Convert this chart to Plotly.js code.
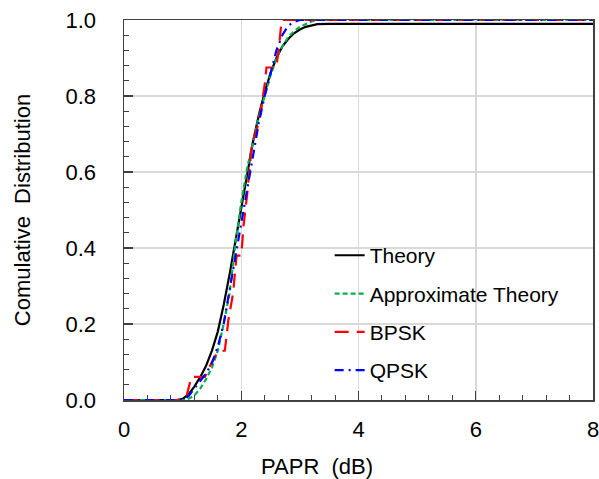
<!DOCTYPE html>
<html>
<head>
<meta charset="utf-8">
<script src="https://cdn.plot.ly/plotly-3.0.1.min.js"></script>
<style>html,body{margin:0;padding:0;background:#fff;}#chart{width:599px;height:479px;}</style>
</head>
<body>
<div id="chart"></div>
<script>
// Theory
var theoryX = [0, 0.9, 1.0, 1.1, 1.2, 1.3, 1.4, 1.5, 1.6, 1.7, 1.8, 1.9, 2.0, 2.1, 2.2, 2.3, 2.4, 2.5, 2.6, 2.7, 2.8, 2.9, 3.0, 3.1, 3.2, 3.3, 3.5, 8];
var theoryY = [0, 0, 0.003, 0.015, 0.035, 0.06, 0.09, 0.13, 0.18, 0.25, 0.33, 0.42, 0.51, 0.6, 0.68, 0.75, 0.81, 0.86, 0.9, 0.93, 0.95, 0.965, 0.975, 0.982, 0.986, 0.989, 0.99, 0.99];
// Approximate theory
var approxX = [0, 1.05, 1.1, 1.2, 1.3, 1.4, 1.5, 1.6, 1.7, 1.8, 1.9, 2.0, 2.1, 2.2, 2.3, 2.4, 2.5, 2.6, 2.7, 2.8, 2.9, 3.0, 3.1, 3.2, 3.3, 8];
var approxY = [0, 0, 0.003, 0.012, 0.03, 0.055, 0.085, 0.13, 0.2, 0.28, 0.41, 0.52, 0.61, 0.68, 0.745, 0.8, 0.855, 0.9, 0.93, 0.955, 0.97, 0.982, 0.99, 0.996, 1, 1];
// BPSK
var bpskX = [0, 1.05, 1.15, 1.38, 1.5, 1.6, 1.72, 1.78, 1.86, 1.92, 2.0, 2.04, 2.1, 2.18, 2.3, 2.4, 2.43, 2.6, 2.65, 2.69, 8];
var bpskY = [0, 0, 0.061, 0.061, 0.1, 0.127, 0.13, 0.21, 0.28, 0.38, 0.38, 0.46, 0.54, 0.67, 0.73, 0.83, 0.875, 0.875, 0.94, 1, 1];
// QPSK
var qpskX = [0, 1.0, 1.1, 1.2, 1.3, 1.4, 1.5, 1.6, 1.7, 1.8, 1.9, 2.0, 2.1, 2.2, 2.3, 2.4, 2.5, 2.6, 2.7, 2.8, 2.9, 3.0, 8];
var qpskY = [0, 0, 0.01, 0.03, 0.05, 0.07, 0.097, 0.14, 0.2, 0.29, 0.38, 0.47, 0.56, 0.64, 0.73, 0.8, 0.86, 0.92, 0.96, 0.985, 0.995, 1, 1];

var seriesNames = ['Theory', 'Approximate Theory', 'BPSK', 'QPSK'];
var xTitle = 'PAPR\u00a0\u00a0(dB)';
var yTitle = 'Comulative\u00a0\u00a0Distribution';

var traces = [
  {x: theoryX, y: theoryY, name: seriesNames[0], legendgroup: 'a', mode: 'lines', line: {color: '#000000', width: 2.2}},
  {x: approxX, y: approxY, name: seriesNames[1], legendgroup: 'b', mode: 'lines', line: {color: '#00b050', width: 2.2, dash: '5px,3px'}},
  {x: bpskX, y: bpskY, name: seriesNames[2], legendgroup: 'c', mode: 'lines', line: {color: '#ff0000', width: 2.2, dash: '14px,8px'}},
  {x: qpskX, y: qpskY, name: seriesNames[3], legendgroup: 'd', mode: 'lines', line: {color: '#0000ff', width: 2.2, dash: '9px,5px,2px,5px'}}
];

var axisCommon = {
  showline: true, linecolor: '#404040', linewidth: 1.5, mirror: true,
  showgrid: true, gridcolor: '#d9d9d9', gridwidth: 1.5,
  zeroline: false, ticks: 'inside', ticklen: 9, tickwidth: 1.2, tickcolor: '#404040',
  ticklabeloverflow: 'allow',
  tickfont: {family: 'Liberation Sans, Arial, sans-serif', size: 22, color: '#000'}
};

var layout = {
  width: 599, height: 479,
  margin: {l: 124, r: 6, t: 20, b: 79},
  paper_bgcolor: '#fff', plot_bgcolor: '#fff',
  font: {family: 'Liberation Sans, Arial, sans-serif', color: '#000'},
  showlegend: true,
  legend: {
    x: 0.4385, y: 0.434, xanchor: 'left', yanchor: 'top',
    bgcolor: 'rgba(0,0,0,0)', borderwidth: 0,
    font: {size: 21, color: '#000'},
    traceorder: 'grouped', tracegroupgap: 8
  },
  xaxis: Object.assign({}, axisCommon, {
    range: [0, 8], dtick: 2, tick0: 0, tickformat: 'd', ticklabelstandoff: 9,
    minor: {dtick: 0.4, ticks: 'inside', ticklen: 5, tickcolor: '#404040', tickwidth: 1, showgrid: false}
  }),
  yaxis: Object.assign({}, axisCommon, {
    range: [0, 1], dtick: 0.2, tick0: 0, tickformat: '.1f', ticklabelstandoff: 22,
    minor: {dtick: 0.04, ticks: 'inside', ticklen: 5, tickcolor: '#404040', tickwidth: 1, showgrid: false},
    title: {text: yTitle, font: {size: 22, color: '#000'}, standoff: 29}
  }),
  annotations: [
    {text: xTitle, xref: 'paper', yref: 'paper', x: (317 - 124) / 469, y: 0, yshift: -66, xanchor: 'center', yanchor: 'middle', showarrow: false, font: {size: 22, color: '#000'}}
  ]
};

Plotly.newPlot('chart', traces, layout, {displayModeBar: false, staticPlot: true});
</script>
</body>
</html>
